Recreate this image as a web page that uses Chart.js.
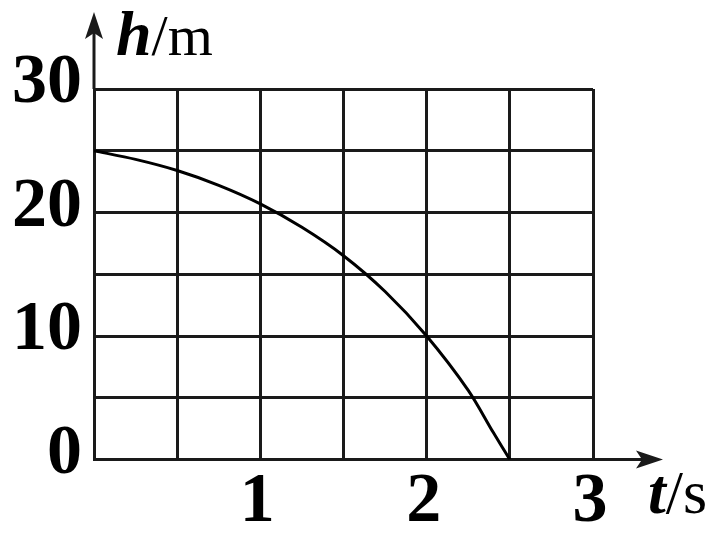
<!DOCTYPE html>
<html>
<head>
<meta charset="utf-8">
<script src="https://cdn.jsdelivr.net/npm/chart.js@4/dist/chart.umd.min.js"></script>
<style>
  html, body { margin: 0; padding: 0; background: #fff; }
  canvas { display: block; }
</style>
</head>
<body>
<canvas id="c" width="725" height="534"></canvas>
<script>
// Data
const tValues = [0, 0.25, 0.5, 0.75, 1, 1.25, 1.5, 1.75, 2, 2.25, 2.4, 2.5];
const hValues = [25, 24.3, 23.4, 22.2, 20.7, 18.8, 16.5, 13.6, 10, 5.6, 2.2, 0];
const xTickLabels = [1, 2, 3];
const yTickLabels = [0, 10, 20, 30];
const xAxisTitle = ['t', '/s'];
const yAxisTitle = ['h', '/m'];

const INK = '#1a1a1a';
const SERIF = '"Liberation Serif", "DejaVu Serif", serif';

const points = tValues.map((t, i) => ({ x: t, y: hValues[i] }));

const axesDecor = {
  id: 'axesDecor',
  afterDraw(chart) {
    const ctx = chart.ctx;
    const a = chart.chartArea;
    const x0 = chart.scales.x.getPixelForValue(0);
    const y0 = chart.scales.y.getPixelForValue(0);
    ctx.save();
    ctx.strokeStyle = INK;
    ctx.fillStyle = INK;
    ctx.lineWidth = 3;
    // y axis extension + arrow
    const yTip = a.top - 77;
    ctx.beginPath();
    ctx.moveTo(x0, a.top);
    ctx.lineTo(x0, yTip + 20);
    ctx.stroke();
    ctx.beginPath();
    ctx.moveTo(x0, yTip);
    ctx.lineTo(x0 - 9, yTip + 27);
    ctx.lineTo(x0, yTip + 21);
    ctx.lineTo(x0 + 9, yTip + 27);
    ctx.closePath();
    ctx.fill();
    // x axis extension + arrow
    const xTip = a.right + 70;
    ctx.beginPath();
    ctx.moveTo(a.right, y0);
    ctx.lineTo(xTip - 20, y0);
    ctx.stroke();
    ctx.beginPath();
    ctx.moveTo(xTip, y0);
    ctx.lineTo(xTip - 27, y0 - 9);
    ctx.lineTo(xTip - 21, y0);
    ctx.lineTo(xTip - 27, y0 + 9);
    ctx.closePath();
    ctx.fill();

    // axis titles
    ctx.fillStyle = '#000';
    ctx.textBaseline = 'alphabetic';
    ctx.textAlign = 'left';
    // y title
    let tx = x0 + 22, ty = a.top - 34;
    ctx.font = 'italic bold 64px ' + SERIF;
    ctx.fillText(yAxisTitle[0], tx, ty);
    tx += ctx.measureText(yAxisTitle[0]).width;
    ctx.font = '58px ' + SERIF;
    ctx.fillText(yAxisTitle[1], tx, ty);
    // x title
    tx = a.right + 55; ty = y0 + 53;
    ctx.font = 'italic bold 64px ' + SERIF;
    ctx.fillText(xAxisTitle[0], tx, ty);
    tx += ctx.measureText(xAxisTitle[0]).width;
    ctx.font = '62px ' + SERIF;
    ctx.fillText(xAxisTitle[1], tx, ty);
    ctx.restore();
  }
};

new Chart(document.getElementById('c'), {
  type: 'line',
  data: {
    datasets: [{
      data: points,
      borderColor: '#000',
      borderWidth: 3,
      pointRadius: 0,
      fill: false,
      tension: 0.3
    }]
  },
  options: {
    responsive: false,
    animation: false,
    layout: { padding: { left: 0, top: 89, right: 132, bottom: 0 } },
    plugins: { legend: { display: false }, tooltip: { enabled: false } },
    scales: {
      x: {
        type: 'linear',
        min: 0, max: 3,
        afterFit(s) { s.height = 74.5; },
        grid: { color: INK, lineWidth: 3, drawTicks: false },
        border: { display: true, color: INK, width: 3 },
        ticks: {
          stepSize: 0.5,
          autoSkip: false,
          maxRotation: 0,
          padding: 1,
          labelOffset: -3,
          color: '#000',
          font: { family: SERIF, size: 70, weight: 'bold' },
          callback: v => xTickLabels.includes(v) ? String(v) : ''
        }
      },
      y: {
        type: 'linear',
        min: 0, max: 30,
        afterFit(s) { s.width = 94; },
        grid: { color: INK, lineWidth: 3, drawTicks: false },
        border: { display: true, color: INK, width: 3 },
        ticks: {
          stepSize: 5,
          autoSkip: false,
          padding: 12,
          labelOffset: -5,
          color: '#000',
          font: { family: SERIF, size: 70, weight: 'bold' },
          callback: v => yTickLabels.includes(v) ? String(v) : ''
        }
      }
    }
  },
  plugins: [axesDecor]
});
</script>
</body>
</html>
